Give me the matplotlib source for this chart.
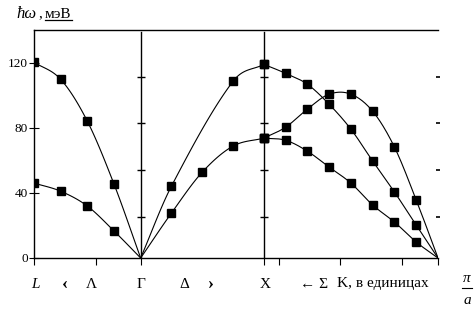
import matplotlib
matplotlib.use('Agg')
import matplotlib.pyplot as plt
from matplotlib.lines import Line2D
import numpy as np

plt.rcParams['font.family'] = ['Liberation Serif', 'DejaVu Serif']

# ---------------- data (x in units of pi/a, Gamma = 0) ----------------
x_L = -np.sqrt(3)          # L point
x_G = 0.0                  # Gamma
x_X = 2.0                  # X point
x_end = 2.0 + 2 * np.sqrt(2)   # Gamma again along Sigma (via K)

# Gamma - L (Lambda)
lam_x = [x_L, 0.75 * x_L, 0.5 * x_L, 0.25 * x_L, x_G]
lam_upper = [120.2, 109.7, 84.0, 45.4, 0.0]
lam_lower = [46.0, 41.0, 31.9, 16.6, 0.0]

# Gamma - X (Delta)
del_x_lower = [0.0, 0.5, 1.0, 1.5, 2.0]
del_lower = [0.0, 27.6, 52.7, 68.7, 73.6]
del_x_upper = [0.0, 0.5, 1.5, 2.0]
del_upper = [0.0, 44.1, 108.5, 118.9]

# X - K - Gamma (Sigma)
sig_x = [x_X + k * (x_end - x_X) / 8 for k in range(9)]
sig_upper = [118.9, 113.4, 106.7, 94.4, 79.1, 59.5, 40.5, 20.2, 0.0]
sig_middle = [73.6, 80.3, 91.4, 100.6, 100.6, 90.1, 68.1, 35.6, 0.0]
sig_lower = [73.6, 72.3, 65.6, 55.8, 46.0, 32.5, 22.1, 9.8, 0.0]

y_ticks = [0, 40, 80, 120]
aux_ticks = [25.3, 53.9, 82.6, 111.2]
x_ticks = [x_L, x_L + 1, x_G, x_X, 2.24, 3.24, 4.24, x_end]


def smooth(xs, ys, n=30):
    """Cubic Hermite curve through the points (drawing only)."""
    x = np.asarray(xs, float)
    y = np.asarray(ys, float)
    if x[0] > x[-1]:
        x, y = x[::-1], y[::-1]
    m = np.empty_like(y)
    m[1:-1] = (y[2:] - y[:-2]) / (x[2:] - x[:-2])
    m[0] = (y[1] - y[0]) / (x[1] - x[0])
    m[-1] = (y[-1] - y[-2]) / (x[-1] - x[-2])
    ox, oy = [], []
    for i in range(len(x) - 1):
        h = x[i + 1] - x[i]
        t = np.linspace(0, 1, n)
        h00 = 2 * t**3 - 3 * t**2 + 1
        h10 = t**3 - 2 * t**2 + t
        h01 = -2 * t**3 + 3 * t**2
        h11 = t**3 - t**2
        yy = h00 * y[i] + h10 * h * m[i] + h01 * y[i + 1] + h11 * h * m[i + 1]
        xx = x[i] + t * h
        if i > 0:
            xx, yy = xx[1:], yy[1:]
        ox.append(xx)
        oy.append(yy)
    return np.concatenate(ox), np.concatenate(oy)


W, H = 474, 313
fig = plt.figure(figsize=(W / 100, H / 100), dpi=100)
ax = fig.add_axes([34 / W, 1 - 258 / H, (438 - 34) / W, (258 - 30) / H])
ax.set_xlim(x_L, x_end)
ax.set_ylim(0, 140)

branches = [
    (lam_x, lam_upper, slice(0, -1)),
    (lam_x, lam_lower, slice(0, -1)),
    (del_x_lower, del_lower, slice(1, None)),
    (del_x_upper, del_upper, slice(1, None)),
    (sig_x, sig_upper, slice(0, -1)),
    (sig_x, sig_middle, slice(0, -1)),
    (sig_x, sig_lower, slice(0, -1)),
]
for xs, ys, msl in branches:
    sx, sy = smooth(xs, ys)
    ax.plot(sx, sy, color='black', lw=0.8, zorder=3)
    ax.plot(np.array(xs)[msl], np.array(ys)[msl], ls='none', marker='s',
            ms=5.2, color='black', zorder=4)

# vertical lines at Gamma and X with cross ticks
for xv in (x_G, x_X):
    ax.plot([xv, xv], [0, 138.6], color='black', lw=1.0, zorder=2)
    ax.plot([xv] * len(aux_ticks), aux_ticks, ls='none', marker='_', ms=5.5,
            mew=1.0, color='black', zorder=2)

for s in ('left', 'bottom', 'top'):
    ax.spines[s].set_linewidth(1.0)
ax.spines['right'].set_visible(False)

ax.set_yticks(y_ticks)
ax.set_yticklabels([str(v) for v in y_ticks], fontsize=9.5)
ax.tick_params(axis='y', direction='inout', length=7, width=0.8, pad=1)
ax.set_xticks(x_ticks)
ax.set_xticklabels([])
ax.tick_params(axis='x', direction='out', length=5, width=0.8)

ax2 = ax.twinx()
ax2.set_ylim(0, 140)
ax2.set_yticks(aux_ticks)
ax2.set_yticklabels([])
ax2.spines[:].set_visible(False)
ax2.tick_params(axis='y', direction='inout', length=3, width=1.2)


def ft(x, y, s, **kw):
    kw.setdefault('fontsize', 11)
    kw.setdefault('ha', 'center')
    kw.setdefault('va', 'center')
    return fig.text(x / W, 1 - y / H, s, **kw)


# bottom labels
ft(35, 284, 'L', style='italic')
ft(65, 284, '‹', fontweight='bold', fontsize=13)
ft(91, 284, 'Λ')
ft(141, 284, 'Γ')
ft(184, 284, 'Δ')
ft(211, 284, '›', fontweight='bold', fontsize=13)
ft(265, 284, 'X')
ft(314, 284, '← Σ')
ft(337, 284, 'K, в единицах', ha='left')
ft(467, 278, 'π', style='italic')
ft(467, 301, 'a', style='italic')
fig.add_artist(Line2D([462 / W, 472 / W], [1 - 288 / H, 1 - 288 / H], color='black', lw=0.8))

# y-axis title
ft(16, 14, 'ħω', style='italic', ha='left', fontsize=12)
ft(38, 14, ',', ha='left', fontsize=11)
t3 = ft(45, 14, 'мэВ', ha='left', fontsize=11)
fig.canvas.draw()
bb = t3.get_window_extent()
fig.add_artist(Line2D([bb.x0 / W, bb.x1 / W], [1 - 20 / H, 1 - 20 / H], color='black', lw=0.9))

fig.savefig('out.png', dpi=100)
